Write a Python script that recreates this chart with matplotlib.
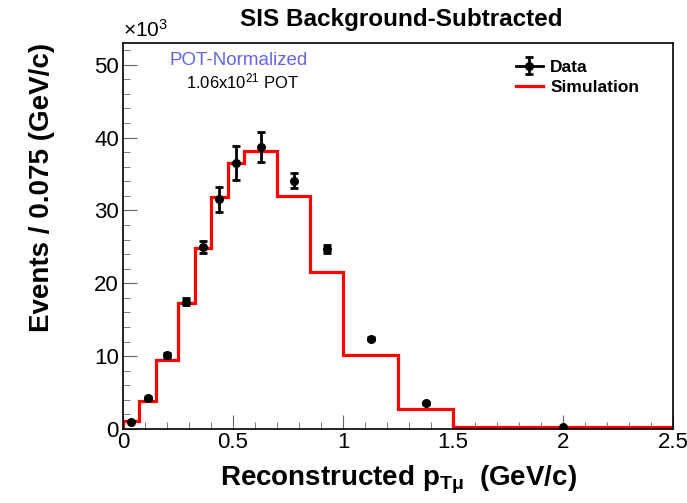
import numpy as np
import matplotlib
matplotlib.use("Agg")
import matplotlib.pyplot as plt
from matplotlib.ticker import MultipleLocator
from matplotlib.lines import Line2D
from matplotlib.legend_handler import HandlerTuple

plt.rcParams['font.family'] = ['Liberation Sans', 'DejaVu Sans']
plt.rcParams['mathtext.fontset'] = 'custom'
plt.rcParams['mathtext.rm'] = 'Liberation Sans'
plt.rcParams['mathtext.bf'] = 'Liberation Sans:bold'
plt.rcParams['mathtext.it'] = 'Liberation Sans:italic'

# bin edges (GeV/c) and simulation (x10^3 events)
bin_edges = [0.0, 0.075, 0.15, 0.25, 0.325, 0.4, 0.475, 0.55, 0.7, 0.85, 1.0, 1.25, 1.5, 2.5]
sim_vals = [1.1, 3.85, 9.5, 17.3, 24.8, 31.8, 36.5, 38.2, 32.0, 21.5, 10.1, 2.8, 0.3]

# data points
data_vals = [1.0, 4.2, 10.1, 17.5, 25.0, 31.5, 36.5, 38.7, 34.1, 24.7, 12.4, 3.6, 0.3]
data_errs = [0.1, 0.2, 0.3, 0.5, 0.8, 1.7, 2.3, 2.1, 1.0, 0.6, 0.2, 0.1, 0.05]

edges = np.array(bin_edges)
centers = 0.5 * (edges[:-1] + edges[1:])

fig = plt.figure(figsize=(6.87, 5.03), dpi=100)
ax = fig.add_axes([0.179, 0.147, 0.801, 0.768])

ax.stairs(sim_vals, edges, color='#ff0000', linewidth=2.3, zorder=2)
err = ax.errorbar(centers, data_vals, yerr=data_errs, fmt='o', color='black', markersize=5.5,
                  elinewidth=2, capsize=3, capthick=2, zorder=3)

ax.set_xlim(0, 2.5)
ax.set_ylim(0, 53)
ax.xaxis.set_major_locator(MultipleLocator(0.5))
ax.xaxis.set_minor_locator(MultipleLocator(0.1))
ax.yaxis.set_major_locator(MultipleLocator(10))
ax.yaxis.set_minor_locator(MultipleLocator(2))
ax.tick_params(which='both', direction='in', labelsize=16, color='#666666')
ax.tick_params(which='major', length=10)
ax.tick_params(which='minor', length=5)
ax.tick_params(axis='y', pad=3)
ax.tick_params(axis='x', pad=2)
ax.xaxis.set_major_formatter(plt.FuncFormatter(lambda v, p: f'{v:g}'))
for s in ax.spines.values():
    s.set_linewidth(1.2)

ax.set_xlabel(r'Reconstructed $\mathbf{p_{T\mu}}$  (GeV/c)', fontsize=20, fontweight='bold', labelpad=8)
ax.set_ylabel('Events / 0.075 (GeV/c)', fontsize=20, fontweight='bold', labelpad=28, loc='top')
fig.text(0.584, 0.962, 'SIS Background-Subtracted', ha='center', va='center',
         fontsize=17.5, fontweight='bold')
ax.text(0.0, 1.005, r'$\times$10$^{3}$', transform=ax.transAxes, fontsize=15,
        ha='left', va='bottom')

ax.text(0.085, 0.955, 'POT-Normalized', transform=ax.transAxes, color='#6464e6',
        fontsize=13.5, ha='left', va='center')
ax.text(0.114, 0.9, r'1.06x10$^{21}$ POT', transform=ax.transAxes, color='black',
        fontsize=12, ha='left', va='center')

data_line = Line2D([], [], color='black', linewidth=2)
sim_line = Line2D([], [], color='#ff0000', linewidth=2.3)
leg = ax.legend([(data_line, err), sim_line], ['Data', 'Simulation'],
                handler_map={tuple: HandlerTuple(ndivide=1)},
                loc='upper left', bbox_to_anchor=(0.685, 0.997),
                frameon=False, prop={'weight': 'bold', 'size': 12.5}, handlelength=1.6,
                handletextpad=0.4, labelspacing=0.3)

fig.savefig('out.png', dpi=100)
